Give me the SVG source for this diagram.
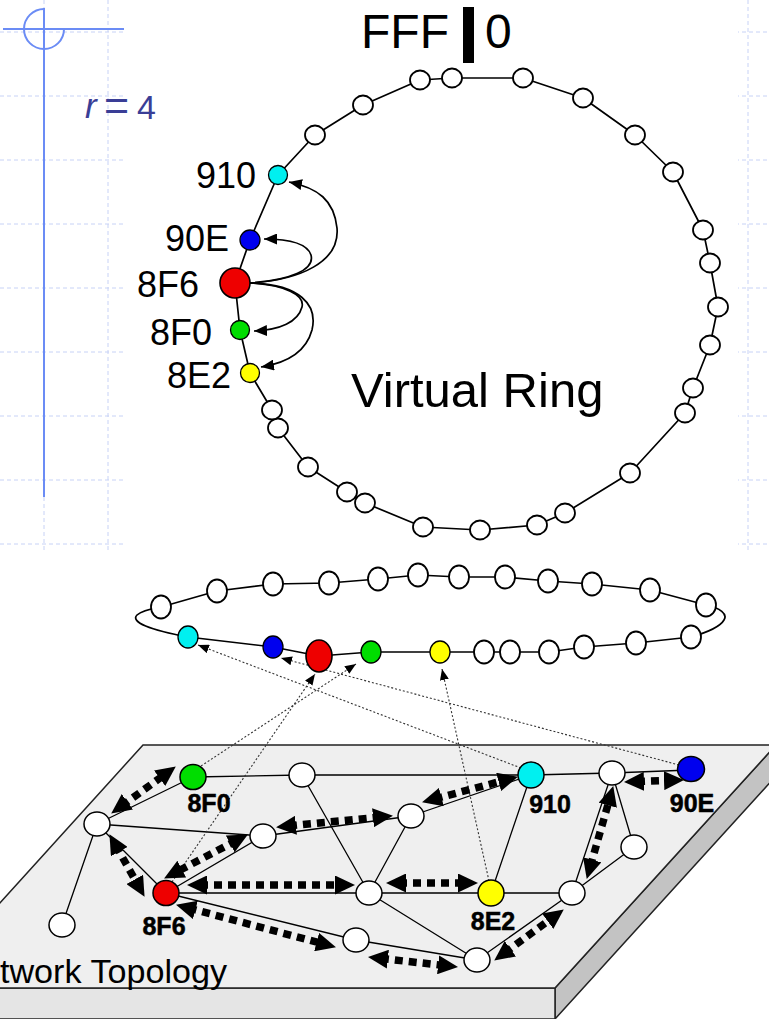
<svg xmlns="http://www.w3.org/2000/svg" width="769" height="1019" viewBox="0 0 769 1019">
<defs>
<style>
.grid{stroke:#c7d2f6;stroke-width:1;stroke-dasharray:4 3;fill:none}
.deco{stroke:#6b8cf5;stroke-width:2;fill:none}
.ring{fill:none;stroke:#000;stroke-width:1.7;stroke-linejoin:round}
.rn{fill:#fff;stroke:#000;stroke-width:1.8}
.lbl{font-family:"Liberation Sans",Arial,Helvetica,sans-serif;fill:#000}
.rl{font-family:"Liberation Sans",Arial,sans-serif;fill:#3a3e96}
.nl{font-family:"Liberation Sans",Arial,Helvetica,sans-serif;font-weight:bold;font-size:25px;fill:#000;text-anchor:middle;stroke:#000;stroke-width:0.5}
.edge{stroke:#000;stroke-width:1.3;fill:none}
.nn{stroke:#000;stroke-width:1.5}
.darr{stroke:#000;stroke-width:7.5;stroke-dasharray:8 6;fill:none;marker-start:url(#big);marker-end:url(#big)}
.dot{stroke:#333;stroke-width:1.1;stroke-dasharray:2 2;fill:none;marker-end:url(#dotA)}
.curve{stroke:#000;stroke-width:1.7;fill:none;marker-end:url(#ringA)}
</style>
<marker id="big" markerUnits="userSpaceOnUse" viewBox="0 0 20 19" markerWidth="20" markerHeight="19" refX="7" refY="9.5" orient="auto-start-reverse"><path d="M0,0 L20,9.5 L0,19 z" fill="#000"/></marker>
<marker id="dotA" markerUnits="userSpaceOnUse" viewBox="0 0 11 9" markerWidth="11" markerHeight="9" refX="11" refY="4.5" orient="auto"><path d="M0,0 L11,4.5 L0,9 z" fill="#000"/></marker>
<marker id="ringA" markerUnits="userSpaceOnUse" viewBox="0 0 13 11" markerWidth="13" markerHeight="11" refX="13" refY="5.5" orient="auto"><path d="M0,0 L13,5.5 L0,11 z" fill="#000"/></marker>
</defs>

<rect x="0" y="0" width="769" height="1019" fill="#fff"/>
<g id="grid">
<path class="grid" d="M44,0V556M108,0V556M172,0V556M236,0V556M300,0V556M364,0V556M428,0V556M492,0V556M556,0V556M620,0V556M684,0V556M748,0V556"/>
<path class="grid" d="M0,32H769M0,96H769M0,160H769M0,224H769M0,288H769M0,352H769M0,416H769M0,480H769M0,544H769"/>
</g>
<rect x="124" y="0" width="614" height="553" fill="#fff"/>
<rect x="0" y="553" width="769" height="466" fill="#fff"/>

<g id="decoration">
<path class="deco" d="M44,8V497M3,29H124"/>
<path class="deco" d="M44,9 A20,20 0 1 0 64,29"/>
<text class="rl" x="85" y="118" font-size="35" font-style="italic">r</text>
<text class="rl" x="104" y="120" font-size="43">=</text>
<text class="rl" x="137" y="119" font-size="34">4</text>
</g>

<g id="top-ring">
<text class="lbl" x="361" y="48" font-size="48">FFF</text>
<rect x="463" y="7" width="11" height="56" fill="#000"/>
<text class="lbl" x="485" y="48" font-size="48">0</text>
<path class="ring" d="M420,80 L452,78 L523,78 L583,98 L635,135 L673,172 L703,230 L710,263 L718,307 L710,345 L693,388 L685,413 L630,473 L565,513 L537,525 L480,530 L423,527 L365,503 L347,492 L308,467 L278,428 L272,410 L250,373 L240,330 L235,283 L250,240 L278,175 L315,135 L363,105 Z"/>
<text class="lbl" x="351" y="407" font-size="49">Virtual Ring</text>
</g>

<g id="plane">
<polygon points="555,988 776,745 776,776 555,1019" fill="#c3c3c3" stroke="#222" stroke-width="1.5"/>
<polygon points="-77,988 555,988 555,1019 -77,1019" fill="#e5e5e5" stroke="#222" stroke-width="1.5"/>
<polygon points="143,745 776,745 555,988 -77,988" fill="#efefef" stroke="#222" stroke-width="1.5"/>
<text class="lbl" x="0" y="983" font-size="34" textLength="227" lengthAdjust="spacingAndGlyphs">twork Topology</text>
</g>

<g id="small-ring">
<path class="ring" d="M161,607 L217,591 L273,584 L329,583 L378,579 L418,575 L459,577 L505,577 L548,581 L592,584 L650,590 L706,605 C720,608 728,614 724,620 C720,627 705,633 691,637 L636,643 L584,647 L549,652 L510,652 L484,652 L440,652 L371,652 L319,656 L273,647 L188,637 C150,630 130,622 137,615 C141,611 150,609 161,607 Z"/>
</g>

<g id="connectors">
<g id="ring-arrows">
<path class="curve" d="M250,283 C300,280 340,262 337,228 C334,200 318,188 289,182"/>
<path class="curve" d="M250,283 C290,280 315,270 311,255 C307,243 290,239 264,239"/>
<path class="curve" d="M250,283 C285,285 305,295 302,307 C298,322 280,330 254,331"/>
<path class="curve" d="M250,283 C300,284 318,305 312,330 C306,352 287,363 261,367"/>
</g>
<g id="edges">
<path class="edge" d="M193,777L302,775M302,775L531,775M531,775L612,773M612,773L690,770M97,824L193,777M97,824L263,836M97,824L166,893M97,824L62,925M263,836L166,893M263,836L411,816M302,775L369,893M166,893L369,893M166,893L356,940M369,893L411,816M369,893L491,893M369,893L477,960M356,940L477,960M491,893L531,775M491,893L572,893M572,893L477,960M572,893L634,847M634,847L612,773M572,893L612,773M411,816L531,775"/>
</g>
<g id="mapping">
<path class="dot" d="M521,768 L198,645"/>
<path class="dot" d="M679,765 L281,658"/>
<path class="dot" d="M172,882 L315,674"/>
<path class="dot" d="M201,766 L356,664"/>
<path class="dot" d="M489,881 L442,669"/>
</g>
<g id="routes">
<path class="darr" d="M121.7,805.9 L165.3,774.1"/>
<path class="darr" d="M115.8,845.5 L138.2,885.5"/>
<path class="darr" d="M236.4,840.6 L175.6,872.4"/>
<path class="darr" d="M200,885 L342,885"/>
<path class="darr" d="M188.6,908.1 L323.4,943.9"/>
<path class="darr" d="M289,825.9 L380,817.1"/>
<path class="darr" d="M434.6,798.9 L505.4,780.1"/>
<path class="darr" d="M399,883 L465,883"/>
<path class="darr" d="M380.9,958.4 L445.1,965.6"/>
<path class="darr" d="M504.7,952.9 L553.3,917.1"/>
<path class="darr" d="M590.3,866.5 L609.7,798.5"/>
<path class="darr" d="M637,781.6 L671,780.4"/>
</g>
</g>

<g id="top-ring-nodes">
<ellipse class="rn" cx="420" cy="80" rx="10" ry="9.5"/>
<ellipse class="rn" cx="452" cy="78" rx="10" ry="9.5"/>
<ellipse class="rn" cx="523" cy="78" rx="10" ry="9.5"/>
<ellipse class="rn" cx="583" cy="98" rx="10" ry="9.5"/>
<ellipse class="rn" cx="635" cy="135" rx="10" ry="9.5"/>
<ellipse class="rn" cx="673" cy="172" rx="10" ry="9.5"/>
<ellipse class="rn" cx="703" cy="230" rx="10" ry="9.5"/>
<ellipse class="rn" cx="710" cy="263" rx="10" ry="9.5"/>
<ellipse class="rn" cx="718" cy="307" rx="10" ry="9.5"/>
<ellipse class="rn" cx="710" cy="345" rx="10" ry="9.5"/>
<ellipse class="rn" cx="693" cy="388" rx="10" ry="9.5"/>
<ellipse class="rn" cx="685" cy="413" rx="10" ry="9.5"/>
<ellipse class="rn" cx="630" cy="473" rx="10" ry="9.5"/>
<ellipse class="rn" cx="565" cy="513" rx="10" ry="9.5"/>
<ellipse class="rn" cx="537" cy="525" rx="10" ry="9.5"/>
<ellipse class="rn" cx="480" cy="530" rx="10" ry="9.5"/>
<ellipse class="rn" cx="423" cy="527" rx="10" ry="9.5"/>
<ellipse class="rn" cx="365" cy="503" rx="10" ry="9.5"/>
<ellipse class="rn" cx="347" cy="492" rx="10" ry="9.5"/>
<ellipse class="rn" cx="308" cy="467" rx="10" ry="9.5"/>
<ellipse class="rn" cx="278" cy="428" rx="10" ry="9.5"/>
<ellipse class="rn" cx="272" cy="410" rx="10" ry="9.5"/>
<ellipse class="rn" cx="315" cy="135" rx="10" ry="9.5"/>
<ellipse class="rn" cx="363" cy="105" rx="10" ry="9.5"/>
</g>
<g id="ring-910"><circle cx="278" cy="175" r="9.5" fill="#00f0f0" stroke="#000" stroke-width="1.3"/><text class="lbl" x="256" y="188" font-size="36" text-anchor="end">910</text></g>
<g id="ring-90E"><circle cx="250" cy="240" r="10" fill="#0000ee" stroke="#000" stroke-width="1.3"/><text class="lbl" x="229" y="251" font-size="36" text-anchor="end">90E</text></g>
<g id="ring-8F6"><circle cx="235" cy="283" r="15" fill="#ee0000" stroke="#000" stroke-width="1.6"/><text class="lbl" x="199" y="297" font-size="36" text-anchor="end">8F6</text></g>
<g id="ring-8F0"><circle cx="240" cy="330" r="9.5" fill="#00dd00" stroke="#000" stroke-width="1.3"/><text class="lbl" x="212" y="345" font-size="36" text-anchor="end">8F0</text></g>
<g id="ring-8E2"><circle cx="250" cy="373" r="9.5" fill="#ffff00" stroke="#000" stroke-width="1.3"/><text class="lbl" x="231" y="388" font-size="36" text-anchor="end">8E2</text></g>

<g id="small-ring-nodes">
<ellipse class="rn" cx="161" cy="607" rx="10" ry="11.5"/>
<ellipse class="rn" cx="217" cy="591" rx="10" ry="11.5"/>
<ellipse class="rn" cx="273" cy="584" rx="10" ry="11.5"/>
<ellipse class="rn" cx="329" cy="583" rx="10" ry="11.5"/>
<ellipse class="rn" cx="378" cy="579" rx="10" ry="11.5"/>
<ellipse class="rn" cx="418" cy="575" rx="10" ry="11.5"/>
<ellipse class="rn" cx="459" cy="577" rx="10" ry="11.5"/>
<ellipse class="rn" cx="505" cy="577" rx="10" ry="11.5"/>
<ellipse class="rn" cx="548" cy="581" rx="10" ry="11.5"/>
<ellipse class="rn" cx="592" cy="584" rx="10" ry="11.5"/>
<ellipse class="rn" cx="650" cy="590" rx="10" ry="11.5"/>
<ellipse class="rn" cx="706" cy="605" rx="10" ry="11.5"/>
<ellipse class="rn" cx="691" cy="637" rx="10" ry="11.5"/>
<ellipse class="rn" cx="636" cy="643" rx="10" ry="11.5"/>
<ellipse class="rn" cx="584" cy="647" rx="10" ry="11.5"/>
<ellipse class="rn" cx="549" cy="652" rx="10" ry="11.5"/>
<ellipse class="rn" cx="510" cy="652" rx="10" ry="11.5"/>
<ellipse class="rn" cx="484" cy="652" rx="10" ry="11.5"/>
</g>
<g id="small-910"><ellipse cx="188" cy="637" rx="10" ry="11" fill="#00f0f0" stroke="#000" stroke-width="1.3"/></g>
<g id="small-90E"><ellipse cx="273" cy="647" rx="10" ry="11" fill="#0000ee" stroke="#000" stroke-width="1.3"/></g>
<g id="small-8F6"><ellipse cx="319" cy="656" rx="13" ry="16" fill="#ee0000" stroke="#000" stroke-width="1.6"/></g>
<g id="small-8F0"><ellipse cx="371" cy="652" rx="10" ry="11" fill="#00dd00" stroke="#000" stroke-width="1.3"/></g>
<g id="small-8E2"><ellipse cx="440" cy="652" rx="10" ry="11" fill="#ffff00" stroke="#000" stroke-width="1.3"/></g>

<g id="net-A"><ellipse class="nn" cx="97" cy="824" rx="13" ry="12" fill="#fff"/></g>
<g id="net-B"><ellipse class="nn" cx="302" cy="775" rx="13" ry="12" fill="#fff"/></g>
<g id="net-C"><ellipse class="nn" cx="263" cy="836" rx="13" ry="12" fill="#fff"/></g>
<g id="net-D"><ellipse class="nn" cx="62" cy="925" rx="13" ry="12" fill="#fff"/></g>
<g id="net-E"><ellipse class="nn" cx="369" cy="893" rx="13" ry="12" fill="#fff"/></g>
<g id="net-F"><ellipse class="nn" cx="356" cy="940" rx="13" ry="12" fill="#fff"/></g>
<g id="net-G"><ellipse class="nn" cx="612" cy="773" rx="13" ry="12" fill="#fff"/></g>
<g id="net-H"><ellipse class="nn" cx="411" cy="816" rx="13" ry="12" fill="#fff"/></g>
<g id="net-I"><ellipse class="nn" cx="634" cy="847" rx="13" ry="12" fill="#fff"/></g>
<g id="net-J"><ellipse class="nn" cx="572" cy="893" rx="13" ry="12" fill="#fff"/></g>
<g id="net-K"><ellipse class="nn" cx="477" cy="960" rx="13" ry="12" fill="#fff"/></g>
<g id="net-8F0"><ellipse class="nn" cx="193" cy="777" rx="13" ry="12.5" fill="#00dd00"/><text class="nl" x="209" y="812">8F0</text></g>
<g id="net-8F6"><ellipse class="nn" cx="166" cy="893" rx="13" ry="12.5" fill="#ee0000"/><text class="nl" x="164" y="935">8F6</text></g>
<g id="net-910"><ellipse class="nn" cx="531" cy="775" rx="13" ry="13" fill="#00f0f0"/><text class="nl" x="550" y="813">910</text></g>
<g id="net-90E"><ellipse class="nn" cx="691" cy="769" rx="13.5" ry="12.5" fill="#0000ee"/><text class="nl" x="692" y="812">90E</text></g>
<g id="net-8E2"><ellipse class="nn" cx="491" cy="893" rx="13" ry="13" fill="#ffff00"/><text class="nl" x="493" y="930">8E2</text></g>
</svg>
